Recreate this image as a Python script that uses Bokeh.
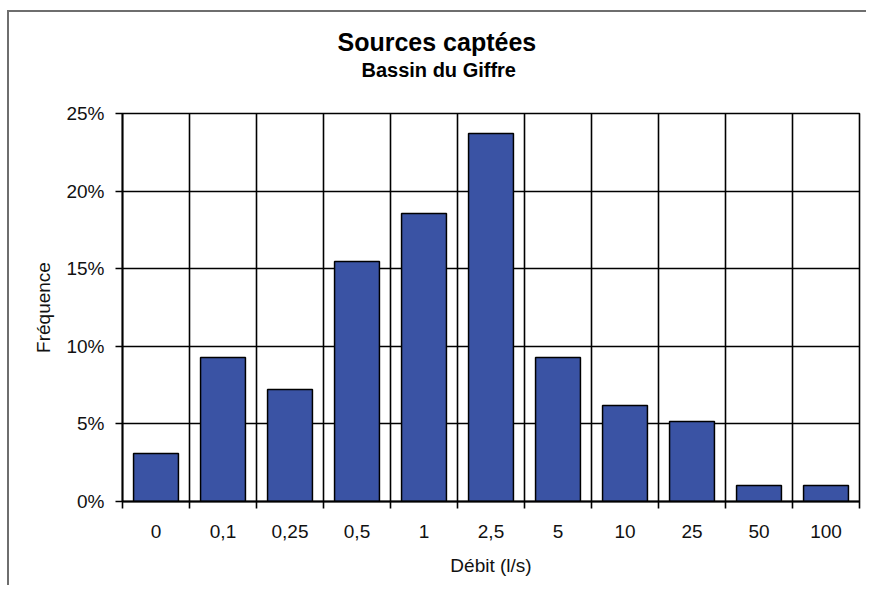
from bokeh.plotting import figure
from bokeh.models import FixedTicker, NumeralTickFormatter, Title, Range1d
from bokeh.embed import file_html
from bokeh.resources import INLINE

# ---- data ----
categories = ["0", "0,1", "0,25", "0,5", "1", "2,5", "5", "10", "25", "50", "100"]
frequencies = [0.0309, 0.0928, 0.0722, 0.1546, 0.1856, 0.2371,
               0.0928, 0.0619, 0.0515, 0.0103, 0.0103]
y_ticks = [0, 0.05, 0.1, 0.15, 0.2, 0.25]
title_text = "Sources captées"
subtitle_text = "Bassin du Giffre"
x_label = "Débit (l/s)"
y_label = "Fréquence"

FONT = "Liberation Sans"
positions = list(range(len(categories)))
boundaries = [i - 0.5 for i in range(len(categories) + 1)]

p = figure(width=859, height=575, output_backend="svg", toolbar_location=None,
           title=None,
           x_range=Range1d(-0.5, len(categories) - 0.5), y_range=Range1d(0, 0.25),
           min_border_left=113, min_border_top=101, min_border_right=9,
           min_border_bottom=86)
p.styles = {"border-left": "2px solid #6e6e6e", "border-top": "2px solid #6e6e6e",
            "margin-top": "10px", "margin-left": "7px"}
p.background_fill_color = "white"
p.border_fill_color = "white"
p.outline_line_color = "black"
p.outline_line_width = 1.6

p.vbar(x=positions, top=frequencies, bottom=0, width=0.67,
       fill_color="#3A53A4", line_color="black", line_width=1.5)

# x axis: labels at centres, tick marks at boundaries (minor ticks)
xa = p.xaxis[0]
xa.ticker = FixedTicker(ticks=positions, minor_ticks=boundaries)
xa.major_label_overrides = {i: c for i, c in zip(positions, categories)}
xa.major_tick_out = 0
xa.major_tick_in = 0
xa.minor_tick_out = 7
xa.minor_tick_in = 0
xa.minor_tick_line_color = "black"
xa.minor_tick_line_width = 1.6
xa.axis_line_color = "black"
xa.axis_line_width = 1.8
xa.major_label_standoff = 16
xa.major_label_text_font = FONT
xa.major_label_text_font_size = "19px"
xa.major_label_text_color = "#111111"
xa.axis_label = x_label
xa.axis_label_text_font = FONT
xa.axis_label_text_font_size = "19px"
xa.axis_label_text_font_style = "normal"
xa.axis_label_text_color = "#111111"
xa.axis_label_standoff = 14

ya = p.yaxis[0]
ya.ticker = FixedTicker(ticks=y_ticks)
ya.formatter = NumeralTickFormatter(format="0%")
ya.major_tick_out = 7
ya.major_tick_in = 0
ya.minor_tick_line_color = None
ya.major_tick_line_color = "black"
ya.major_tick_line_width = 1.6
ya.axis_line_color = "black"
ya.axis_line_width = 1.8
ya.major_label_standoff = 11
ya.major_label_text_font = FONT
ya.major_label_text_font_size = "19px"
ya.major_label_text_color = "#111111"
ya.axis_label = y_label
ya.axis_label_text_font = FONT
ya.axis_label_text_font_size = "19px"
ya.axis_label_text_font_style = "normal"
ya.axis_label_text_color = "#111111"
ya.axis_label_standoff = 9

p.xgrid.ticker = FixedTicker(ticks=boundaries)
p.xgrid.grid_line_color = "black"
p.xgrid.grid_line_width = 1.6
p.ygrid.ticker = FixedTicker(ticks=y_ticks)
p.ygrid.grid_line_color = "black"
p.ygrid.grid_line_width = 1.6

# titles: first added sits closest to the frame
p.add_layout(Title(text=subtitle_text, align="left", offset=239, standoff=66,
                   text_font=FONT, text_font_size="20px", text_font_style="bold",
                   text_color="black"), "above")
p.add_layout(Title(text=title_text, align="left", offset=215, standoff=-64,
                   text_font=FONT, text_font_size="25px", text_font_style="bold",
                   text_color="black"), "above")

open("out.html", "w").write(file_html(p, INLINE))
